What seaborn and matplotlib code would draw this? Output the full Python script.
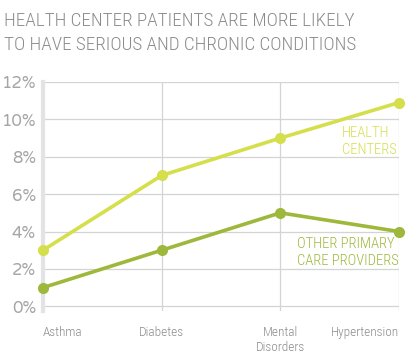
import pandas as pd
import matplotlib.pyplot as plt
import seaborn as sns
from matplotlib import font_manager

conditions = ["Asthma", "Diabetes", "Mental\nDisorders", "Hypertension"]
health_centers = [3.0, 7.0, 9.0, 10.9]
other_providers = [1.0, 3.0, 5.0, 4.0]
y_ticks = [0, 2, 4, 6, 8, 10, 12]

hc_color = "#d5df4b"
op_color = "#9db83a"
text_gray = "#8c8c8c"
grid_gray = "#d4d4d4"


def pick(candidates):
    names = {f.name for f in font_manager.fontManager.ttflist}
    for c in candidates:
        if c in names:
            return c
    return "DejaVu Sans"


narrow = pick(["Roboto Condensed", "Archivo Narrow", "Barlow Semi Condensed", "Liberation Sans Narrow"])
rounded = pick(["Varela Round", "Nunito", "Quicksand", "DejaVu Sans"])

df = pd.DataFrame({
    "x": list(range(len(conditions))) * 2,
    "value": health_centers + other_providers,
    "group": ["HC"] * 4 + ["OP"] * 4,
})

sns.set_style("white")
fig = plt.figure(figsize=(4.19, 3.54), dpi=100)
ax = fig.add_axes([0.1026, 0.1215, 0.8497, 0.6469])

sns.lineplot(data=df, x="x", y="value", hue="group", palette={"HC": hc_color, "OP": op_color},
             marker="o", markersize=8, markeredgewidth=0, linewidth=2.6, legend=False, ax=ax,
             clip_on=False, zorder=3)

ax.set_xlim(0, 3)
ax.set_ylim(-0.25, 12)
ax.set_yticks(y_ticks)
ax.set_yticklabels([f"{t}%" for t in y_ticks], fontsize=12, color="#a6a6a6", family=rounded)
ax.set_xticks(range(len(conditions)))
ax.set_xticklabels(conditions, fontsize=9.5, color=text_gray, family=narrow, weight="light")
xl = ax.get_xticklabels()
xl[0].set_ha("left")
xl[-1].set_ha("right")
ax.tick_params(length=0, pad=11)
ax.tick_params(axis="y", pad=5)
ax.set_xlabel("")
ax.set_ylabel("")
ax.grid(True, color=grid_gray, linewidth=0.9)
ax.set_axisbelow(True)
for s in ["top", "right", "bottom"]:
    ax.spines[s].set_visible(False)
ax.spines["left"].set_color("#e3e3e3")
ax.spines["left"].set_linewidth(3)

ax.text(2.52, 9.64, "HEALTH\nCENTERS", color=hc_color, fontsize=10.5, family=narrow, weight="light",
        va="top", ha="left", linespacing=1.25)
ax.text(2.14, 3.72, "OTHER PRIMARY\nCARE PROVIDERS", color=op_color, fontsize=10.5, family=narrow, weight="light",
        va="top", ha="left", linespacing=1.25)

fig.text(0.01, 0.965, "HEALTH CENTER PATIENTS ARE MORE LIKELY\nTO HAVE SERIOUS AND CHRONIC CONDITIONS",
         color=text_gray, fontsize=13.8, family=narrow, weight="light", va="top", ha="left", linespacing=1.42)

fig.savefig("out.png", dpi=100)
